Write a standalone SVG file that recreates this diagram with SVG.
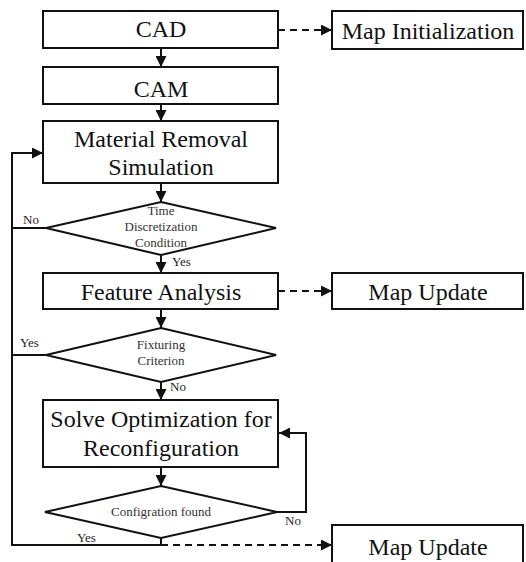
<svg xmlns="http://www.w3.org/2000/svg" width="526" height="562" viewBox="0 0 526 562">
<style>
.box{fill:#fff;stroke:#111;stroke-width:2}
.dia{fill:#fff;stroke:#111;stroke-width:2}
.t{font-family:"Liberation Serif","Times New Roman",serif;font-size:24px;fill:#111;text-anchor:middle}
.s{font-family:"Liberation Serif","Times New Roman",serif;font-size:13px;fill:#333;text-anchor:middle}
.l{font-family:"Liberation Serif","Times New Roman",serif;font-size:13px;fill:#222}
.c{fill:none;stroke:#111;stroke-width:2}
.d{fill:none;stroke:#111;stroke-width:2;stroke-dasharray:7,5}
</style>
<defs>
<marker id="ah" markerUnits="userSpaceOnUse" markerWidth="11" markerHeight="11" refX="11" refY="5.5" orient="auto">
<path d="M0,0 L11,5.5 L0,11 z" fill="#111"/>
</marker>
</defs>
<rect width="526" height="562" fill="#fff"/>
<g id="connectors">
<path class="c" d="M161,48 L161,67" marker-end="url(#ah)"/>
<path class="c" d="M161,104 L161,121" marker-end="url(#ah)"/>
<path class="c" d="M161,183 L161,202" marker-end="url(#ah)"/>
<path class="c" d="M161,255 L161,273" marker-end="url(#ah)"/>
<path class="c" d="M161,309 L161,328" marker-end="url(#ah)"/>
<path class="c" d="M161,382 L161,400" marker-end="url(#ah)"/>
<path class="c" d="M161,467 L161,486" marker-end="url(#ah)"/>
<path class="c" d="M277,512 L306,512 L306,433 L279,433" marker-end="url(#ah)"/>
<path class="c" d="M161,538 L161,545 L12,545 L12,153 L43,153" marker-end="url(#ah)"/>
<path class="c" d="M46,228 L12,228"/>
<path class="c" d="M46,355 L12,355"/>
<path class="d" d="M278,30 L332,30" marker-end="url(#ah)"/>
<path class="d" d="M278,291 L332,291" marker-end="url(#ah)"/>
<path class="d" d="M161,545 L332,545" marker-end="url(#ah)"/>
<text class="l" x="23" y="224">No</text>
<text class="l" x="172" y="266">Yes</text>
<text class="l" x="20" y="347">Yes</text>
<text class="l" x="170" y="391">No</text>
<text class="l" x="285" y="525">No</text>
<text class="l" x="77" y="542">Yes</text>
</g>
<g id="cad"><rect class="box" x="43" y="11" width="235" height="37"/><text class="t" x="161" y="37">CAD</text></g>
<g id="cam"><rect class="box" x="43" y="67" width="235" height="37"/><text class="t" x="161" y="97">CAM</text></g>
<g id="mrs"><rect class="box" x="43" y="121" width="235" height="62"/><text class="t" x="161" y="147">Material Removal</text><text class="t" x="161" y="175">Simulation</text></g>
<g id="d1"><polygon class="dia" points="161,202 276,228 161,255 46,228"/><text class="s" x="161" y="215">Time</text><text class="s" x="161" y="231">Discretization</text><text class="s" x="161" y="247">Condition</text></g>
<g id="fa"><rect class="box" x="43" y="273" width="235" height="36"/><text class="t" x="161" y="300">Feature Analysis</text></g>
<g id="d2"><polygon class="dia" points="161,328 276,355 161,382 46,355"/><text class="s" x="161" y="349">Fixturing</text><text class="s" x="161" y="365">Criterion</text></g>
<g id="solve"><rect class="box" x="43" y="400" width="235" height="67"/><text class="t" x="161" y="427">Solve Optimization for</text><text class="t" x="161" y="456">Reconfiguration</text></g>
<g id="d3"><polygon class="dia" points="161,486 277,512 161,538 45,512"/><text class="s" x="161" y="516">Configration found</text></g>
<g id="mapinit"><rect class="box" x="332" y="11" width="191" height="38"/><text class="t" x="428" y="39">Map Initialization</text></g>
<g id="mapupdate1"><rect class="box" x="332" y="273" width="191" height="36"/><text class="t" x="428" y="300">Map Update</text></g>
<g id="mapupdate2"><rect class="box" x="332" y="525" width="191" height="45"/><text class="t" x="428" y="555">Map Update</text></g>
</svg>
